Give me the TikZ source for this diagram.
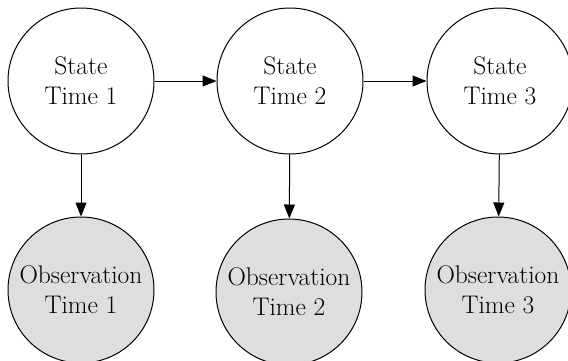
\documentclass[tikz,border=0pt]{standalone}
\usepackage{fontspec}
\usepackage{tikz}
\usetikzlibrary{arrows.meta}
\definecolor{obsgray}{RGB}{222,222,222}

\begin{document}
\begin{tikzpicture}[x=1pt,y=1pt,line width=1pt,
	state/.style={circle,draw,minimum size=146pt,inner sep=0pt,align=center,font=\fontsize{25.5}{30}\selectfont},
	obs/.style={state,fill=obsgray},
	link/.style={-{Triangle[length=14pt,width=11pt]}}]
	\useasboundingbox (0,0) rectangle (568,-360);
	\node[state] (s1) at (81,-81) {State\\Time 1};
	\node[state] (s2) at (290,-81) {State\\Time 2};
	\node[state] (s3) at (500,-81) {State\\Time 3};
	\node[obs] (o1) at (81,-290) {Observation\\Time 1};
	\node[obs] (o2) at (289,-292) {Observation\\Time 2};
	\node[obs] (o3) at (498,-290) {Observation\\Time 3};
	\draw[link] (s1) -- (s2);
	\draw[link] (s2) -- (s3);
	\draw[link] (s1) -- (o1);
	\draw[link] (s2) -- (o2);
	\draw[link] (s3) -- (o3);
\end{tikzpicture}
\end{document}
